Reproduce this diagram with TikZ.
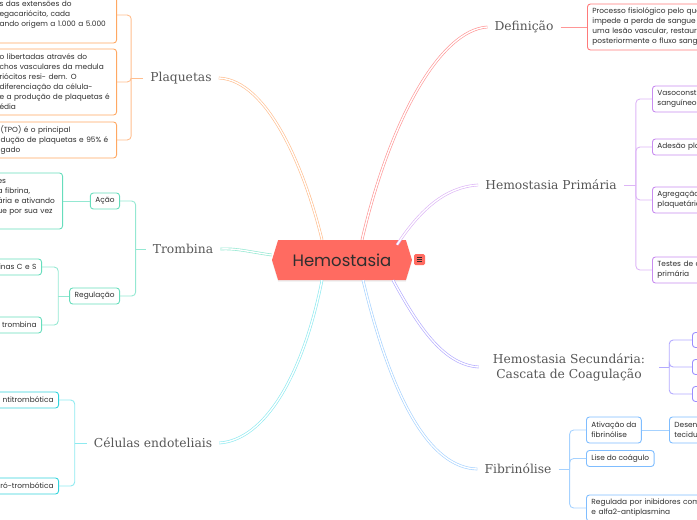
\documentclass[tikz,border=0pt]{standalone}
\usepackage{fontspec}
\setmainfont{Poppins}
\newfontfamily\topicfamily{DejaVu Serif}
\usetikzlibrary{shapes.symbols,shadows,positioning}

\definecolor{HSred}{HTML}{FF6B61}
\definecolor{HStext}{HTML}{2E2E2E}
\definecolor{PLline}{HTML}{FFBE8F}
\definecolor{PLbox}{HTML}{FFA862}
\definecolor{TRline}{HTML}{94E8D2}
\definecolor{TRbox}{HTML}{66DDBC}
\definecolor{CEline}{HTML}{8EEAF0}
\definecolor{CEbox}{HTML}{33D3DC}
\definecolor{DEline}{HTML}{FF9696}
\definecolor{DEbox}{HTML}{FF7A7A}
\definecolor{PRline}{HTML}{DDB5F6}
\definecolor{PRbox}{HTML}{C88CF0}
\definecolor{SEline}{HTML}{B3AAFF}
\definecolor{SEbox}{HTML}{9C8EFF}
\definecolor{FIline}{HTML}{A6D2FF}
\definecolor{FIbox}{HTML}{7FBDFF}

\tikzset{
  hub/.style={signal, signal to=west and east, signal pointer angle=146,
    fill=HSred, text=HStext, minimum width=140pt, minimum height=40pt,
    font=\fontsize{16.5}{18}\selectfont,
    drop shadow={opacity=0.15, shadow xshift=0pt, shadow yshift=-1.5pt}},
  note/.style={fill=HSred, rounded corners=1.5pt, minimum size=11pt, inner sep=0pt},
  topic/.style={font=\topicfamily\fontsize{12.3}{15}\selectfont, text=black!66,
    align=center, inner xsep=7pt, inner ysep=2pt},
  leaf/.style={draw=#1, rounded corners=3pt, line width=0.9pt, fill=white, text=HStext,
    font=\fontsize{7.4}{10}\selectfont, align=left, inner xsep=5pt, inner ysep=0pt,
    minimum height=16pt, execute at begin node={\hyphenpenalty=10000}},
  branch/.style={draw=#1, line width=0.65pt, double=white, double distance=1.4pt},
  link/.style={draw=#1, line width=0.9pt, rounded corners=4pt},
}

\begin{document}
\begin{tikzpicture}[x=1pt,y=-1pt]
  \useasboundingbox (0,0) rectangle (697,520);
  \clip (0,0) rectangle (697,520);

  % central topic
  \node[hub] (hub) at (342,260) {Hemostasia};
  \node[note] (menu) at (419.5,259.5) {};
  \foreach \dy in {-2,0,2}
    \draw[HStext, line width=0.5pt] ([xshift=-2.5pt,yshift=\dy pt]menu.center) -- ([xshift=2.5pt,yshift=\dy pt]menu.center);

  % main topics
  \node[topic] (plaq) at (181,78) {Plaquetas};
  \node[topic] (tromb) at (183,249) {Trombina};
  \node[topic] (celu) at (153,443) {Células endoteliais};
  \node[topic] (defi) at (524,27) {Definição};
  \node[topic] (prim) at (551,185) {Hemostasia Primária};
  \node[topic, inner xsep=14pt] (secu) at (569,367) {Hemostasia Secundária:\\Cascata de Coagulação};
  \node[topic] (fibr) at (518,469) {Fibrinólise};

  % branches from the centre
  \draw[branch=PLline] ([xshift=-20pt]hub.north) .. controls (305,170) and (268,80) .. (plaq.east);
  \draw[branch=TRline] ([yshift=5pt]hub.west) .. controls (250,252) and (236,248) .. (tromb.east);
  \draw[branch=CEline] ([xshift=-20pt]hub.south) .. controls (303,375) and (265,440) .. (celu.east);
  \draw[branch=DEline] ([xshift=20pt]hub.north) .. controls (390,120) and (440,30) .. (defi.west);
  \draw[branch=PRline] ([xshift=55pt,yshift=-5pt]hub.north) .. controls (420,210) and (445,187) .. (prim.west);
  \draw[branch=SEline] ([xshift=51pt]hub.south) .. controls (420,330) and (445,365) .. (secu.west);
  \draw[branch=FIline] ([xshift=21pt]hub.south) .. controls (392,400) and (430,468) .. (fibr.west);

  % Plaquetas
  \node[leaf=PLbox, anchor=east, text width=112pt, minimum height=56pt] (pl1) at (117,15)
    {s das extensões do\\egacariócito, cada\\ando origem a 1.000 a 5.000};
  \node[leaf=PLbox, anchor=east, text width=112pt, minimum height=66pt] (pl2) at (117,82)
    {o libertadas através do\\chos vasculares da medula\\riócitos resi- dem. O\\diferenciação da célula-\\e a produção de plaquetas é\\édia};
  \node[leaf=PLbox, anchor=east, text width=111pt, minimum height=36pt] (pl3) at (117,140)
    {(TPO) é o principal\\dução de plaquetas e 95\% é\\gado};
  \coordinate (plbar) at ([xshift=-12pt]plaq.west);
  \draw[link=PLline] (plaq.west) -- (plbar);
  \foreach \c in {pl1,pl2,pl3} \draw[link=PLline] (plbar) |- (\c.east);

  % Trombina
  \node[leaf=TRbox, anchor=east] (acao) at (120,201) {Ação};
  \node[leaf=TRbox, anchor=east] (regu) at (120,296) {Regulação};
  \node[leaf=TRbox, anchor=east, text width=60pt, minimum height=56pt] (acaotx) at (63,201)
    {es\\a fibrina,\\ária e ativando\\ue por sua vez\\\mbox{}};
  \node[leaf=TRbox, anchor=east, text width=70pt, align=right] (regprot) at (42,267) {inas C e S};
  \node[leaf=TRbox, anchor=east, text width=70pt, align=right] (regat) at (42,325) {trombina};
  \coordinate (trbar) at ([xshift=-10pt]tromb.west);
  \draw[link=TRline] (tromb.west) -- (trbar);
  \foreach \c in {acao,regu} \draw[link=TRline] (trbar) |- (\c.east);
  \draw[link=TRline] (acao.west) -- (acaotx.east);
  \coordinate (rgbar) at ([xshift=-11pt]regu.west);
  \draw[link=TRline] (regu.west) -- (rgbar);
  \foreach \c in {regprot,regat} \draw[link=TRline] (rgbar) |- (\c.east);

  % Celulas endoteliais
  \node[leaf=CEbox, anchor=east, text width=70pt, align=right] (ceanti) at (59,400) {ntitrombótica};
  \node[leaf=CEbox, anchor=east, text width=70pt, align=right] (cepro) at (59,486) {ró-trombótica};
  \coordinate (cebar) at ([xshift=-12pt]celu.west);
  \draw[link=CEline] (celu.west) -- (cebar);
  \foreach \c in {ceanti,cepro} \draw[link=CEline] (cebar) |- (\c.east);

  % Definicao
  \node[leaf=DEbox, anchor=west, text width=150pt, minimum height=46pt] (detx) at (587,27)
    {Processo fisiológico pelo qual\\impede a perda de sangue após\\uma lesão vascular, restaurando\\posteriormente o fluxo sanguíneo};
  \draw[link=DEline] (defi.east) -- (detx.west);

  % Hemostasia primaria
  \node[leaf=PRbox, anchor=west, text width=80pt, minimum height=26pt] (prvaso) at (652,99) {Vasoconstrição\\sanguíneo};
  \node[leaf=PRbox, anchor=west, text width=80pt] (prades) at (652,147) {Adesão plaquetária};
  \node[leaf=PRbox, anchor=west, text width=80pt, minimum height=26pt] (pragre) at (652,200) {Agregação\\plaquetária};
  \node[leaf=PRbox, anchor=west, text width=80pt, minimum height=26pt] (prtest) at (652,270) {Testes de avaliação\\primária};
  \coordinate (prbar) at ([xshift=12pt]prim.east);
  \draw[link=PRline] (prim.east) -- (prbar);
  \foreach \c in {prvaso,prades,pragre,prtest} \draw[link=PRline] (prbar) |- (\c.west);

  % Hemostasia secundaria
  \node[leaf=SEbox, anchor=west, minimum width=30pt, minimum height=15pt] (sea) at (692,340) {};
  \node[leaf=SEbox, anchor=west, minimum width=30pt, minimum height=15pt] (seb) at (692,367) {};
  \node[leaf=SEbox, anchor=west, minimum width=30pt, minimum height=15pt] (sec) at (692,394) {};
  \coordinate (sebar) at ([xshift=10pt]secu.east);
  \draw[link=SEline] (secu.east) -- (sebar);
  \foreach \c in {sea,seb,sec} \draw[link=SEline] (sebar) |- (\c.west);

  % Fibrinolise
  \node[leaf=FIbox, anchor=west, minimum height=26pt] (fiativ) at (586,430) {Ativação da\\fibrinólise};
  \node[leaf=FIbox, anchor=west] (filise) at (586,458.5) {Lise do coágulo};
  \node[leaf=FIbox, anchor=west, text width=150pt, minimum height=26pt] (fireg) at (586,508)
    {Regulada por inibidores como\\e alfa2-antiplasmina};
  \node[leaf=FIbox, anchor=west, text width=60pt, minimum height=26pt] (fides) at (669,430) {Desencadeada\\tecidual};
  \coordinate (fibar) at ([xshift=11pt]fibr.east);
  \draw[link=FIline] (fibr.east) -- (fibar);
  \foreach \c in {fiativ,filise,fireg} \draw[link=FIline] (fibar) |- (\c.west);
  \draw[link=FIline] (fiativ.east) -- (fides.west);
\end{tikzpicture}
\end{document}
